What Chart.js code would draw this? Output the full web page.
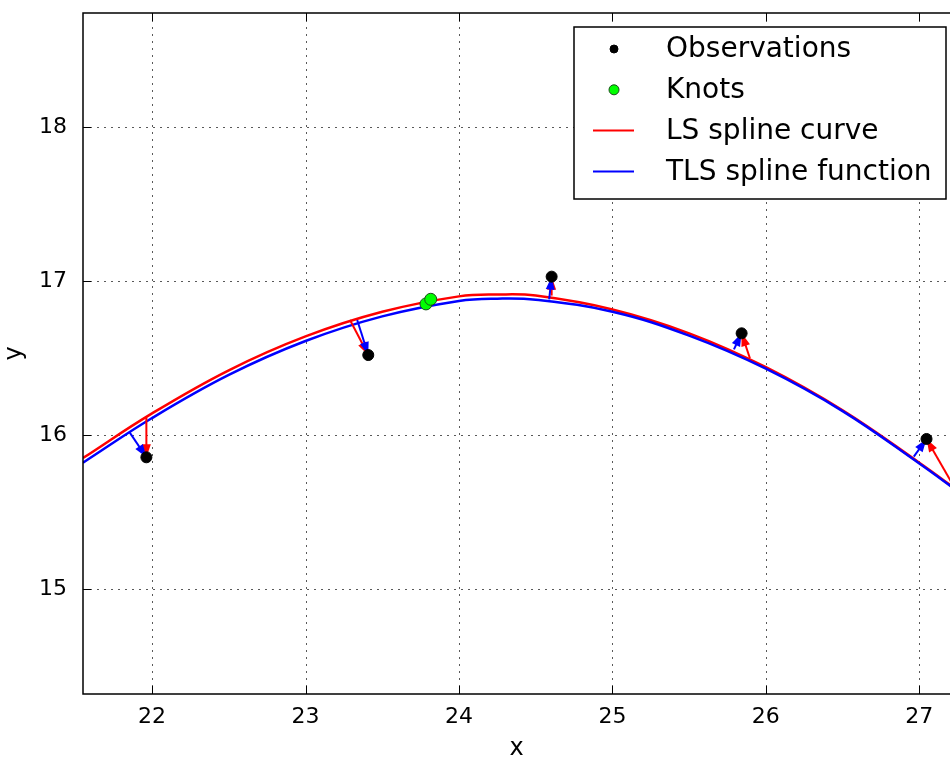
<!DOCTYPE html>
<html>
<head>
<meta charset="utf-8">
<script src="https://cdn.jsdelivr.net/npm/chart.js@4.4.0/dist/chart.umd.min.js"></script>
<style>
    html, body { margin: 0; padding: 0; background: #fff; }
    #wrap { width: 950px; height: 763px; position: relative; }
</style>
</head>
<body>
<div id="wrap"><canvas id="myChart"></canvas></div>
<script>
// observations (black dots)
var obsX = [21.963, 23.409, 24.604, 25.842, 27.047];
var obsY = [15.855, 16.519, 17.028, 16.660, 15.974];

// knots (green dots)
var knotX = [23.785, 23.816];
var knotY = [16.851, 16.881];

// spline curves
var curveX = [21.55, 22.0, 22.5, 23.0, 23.5, 24.0, 24.25, 24.5, 25.0, 25.5, 26.0, 26.5, 27.0, 27.25];
var lsY = [15.85, 16.14, 16.42, 16.64, 16.80, 16.90, 16.912, 16.905, 16.815, 16.66, 16.44, 16.16, 15.82, 15.64];
var tlsY = [15.82, 16.11, 16.39, 16.61, 16.77, 16.87, 16.885, 16.878, 16.80, 16.645, 16.43, 16.155, 15.815, 15.635];

// residual arrows: start on the curve, end at the observation
var lsArrowX = [21.963, 23.290, 24.604, 25.896, 27.240];
var lsArrowY = [16.115, 16.747, 16.905, 16.498, 15.640];
var tlsArrowX = [21.855, 23.337, 24.588, 25.792, 26.964];
var tlsArrowY = [16.015, 16.747, 16.881, 16.556, 15.859];

var xTicks = [22, 23, 24, 25, 26, 27];
var yTicks = [15, 16, 17, 18];

var FONT = "'DejaVu Sans', sans-serif";

function pts(xs, ys) {
    return xs.map(function (x, i) { return {x: x, y: ys[i]}; });
}

var datasets = [
    {
        label: 'Observations',
        data: pts(obsX, obsY),
        pointRadius: 5.5,
        pointBackgroundColor: '#000',
        pointBorderColor: '#000',
        pointBorderWidth: 1,
        showLine: false,
        order: 0
    },
    {
        label: 'Knots',
        data: pts(knotX, knotY),
        pointRadius: 6,
        pointBackgroundColor: '#00ff00',
        pointBorderColor: '#1a4d1a',
        pointBorderWidth: 1,
        showLine: false,
        order: 1
    },
    {
        label: 'LS spline curve',
        data: pts(curveX, lsY),
        borderColor: '#ff0000',
        borderWidth: 2.5,
        pointRadius: 0,
        showLine: true,
        tension: 0.4,
        order: 6
    },
    {
        label: 'TLS spline function',
        data: pts(curveX, tlsY),
        borderColor: '#0000ff',
        borderWidth: 2.5,
        pointRadius: 0,
        showLine: true,
        tension: 0.4,
        order: 5
    }
];

// one small dataset per arrow
lsArrowX.forEach(function (x, i) {
    datasets.push({
        label: '', arrow: true,
        data: [{x: x, y: lsArrowY[i]}, {x: obsX[i], y: obsY[i]}],
        borderColor: '#ff0000', borderWidth: 2, pointRadius: 0, showLine: true, order: 4
    });
});
tlsArrowX.forEach(function (x, i) {
    datasets.push({
        label: '', arrow: true,
        data: [{x: x, y: tlsArrowY[i]}, {x: obsX[i], y: obsY[i]}],
        borderColor: '#0000ff', borderWidth: 2, pointRadius: 0, showLine: true, order: 3
    });
});

// arrow heads, drawn right after each arrow line
var arrowPlugin = {
    id: 'arrowHeads',
    afterDatasetDraw: function (chart, args) {
        var ds = chart.data.datasets[args.index];
        if (!ds.arrow) return;
        var p0 = args.meta.data[0], p1 = args.meta.data[1];
        var a = chart.chartArea, ctx = chart.ctx;
        var ang = Math.atan2(p1.y - p0.y, p1.x - p0.x);
        var len = 13, half = 4.5;
        ctx.save();
        ctx.beginPath();
        ctx.rect(a.left, a.top, a.right - a.left, a.bottom - a.top);
        ctx.clip();
        ctx.fillStyle = ds.borderColor;
        ctx.beginPath();
        ctx.moveTo(p1.x, p1.y);
        ctx.lineTo(p1.x - len * Math.cos(ang) + half * Math.sin(ang), p1.y - len * Math.sin(ang) - half * Math.cos(ang));
        ctx.lineTo(p1.x - len * Math.cos(ang) - half * Math.sin(ang), p1.y - len * Math.sin(ang) + half * Math.cos(ang));
        ctx.closePath();
        ctx.fill();
        ctx.restore();
    }
};

// dotted grid, axes frame and inward ticks
var framePlugin = {
    id: 'frame',
    beforeDatasetsDraw: function (chart) {
        var ctx = chart.ctx, a = chart.chartArea;
        var sx = chart.scales.x, sy = chart.scales.y;
        ctx.save();
        ctx.strokeStyle = 'rgba(0,0,0,0.65)';
        ctx.lineWidth = 1;
        ctx.setLineDash([2, 5]);
        xTicks.forEach(function (v) {
            var p = Math.round(sx.getPixelForValue(v)) + 0.5;
            ctx.beginPath(); ctx.moveTo(p, a.bottom); ctx.lineTo(p, a.top); ctx.stroke();
        });
        yTicks.forEach(function (v) {
            var p = Math.round(sy.getPixelForValue(v)) + 0.5;
            ctx.beginPath(); ctx.moveTo(a.left, p); ctx.lineTo(a.right, p); ctx.stroke();
        });
        ctx.restore();
    },
    afterDatasetsDraw: function (chart) {
        var ctx = chart.ctx, a = chart.chartArea;
        var sx = chart.scales.x, sy = chart.scales.y;
        var tl = 8;
        ctx.save();
        ctx.strokeStyle = '#000';
        ctx.lineWidth = 1.5;
        ctx.strokeRect(a.left, a.top, a.right - a.left + 2, a.bottom - a.top);
        ctx.lineWidth = 1;
        xTicks.forEach(function (v) {
            var p = Math.round(sx.getPixelForValue(v)) + 0.5;
            ctx.beginPath(); ctx.moveTo(p, a.bottom); ctx.lineTo(p, a.bottom - tl); ctx.stroke();
            ctx.beginPath(); ctx.moveTo(p, a.top); ctx.lineTo(p, a.top + tl); ctx.stroke();
        });
        yTicks.forEach(function (v) {
            var p = Math.round(sy.getPixelForValue(v)) + 0.5;
            ctx.beginPath(); ctx.moveTo(a.left, p); ctx.lineTo(a.left + tl, p); ctx.stroke();
        });
        ctx.restore();
    }
};

// legend box in the upper right of the plot
var legendPlugin = {
    id: 'boxLegend',
    afterDraw: function (chart) {
        var ctx = chart.ctx, a = chart.chartArea;
        var x0 = a.right - 376, y0 = a.top + 14, w = 372, h = 172;
        var rowH = 40.8, firstRow = 22;
        ctx.save();
        ctx.fillStyle = '#fff';
        ctx.fillRect(x0, y0, w, h);
        ctx.strokeStyle = '#000';
        ctx.lineWidth = 1.5;
        ctx.strokeRect(x0, y0, w, h);
        ctx.font = '28px ' + FONT;
        ctx.textBaseline = 'middle';
        ctx.textAlign = 'left';
        for (var i = 0; i < 4; i++) {
            var ds = chart.data.datasets[i];
            var cy = y0 + firstRow + i * rowH;
            var cx = x0 + 40;
            if (ds.showLine) {
                ctx.strokeStyle = ds.borderColor;
                ctx.lineWidth = 2;
                ctx.beginPath(); ctx.moveTo(x0 + 19, cy); ctx.lineTo(x0 + 60, cy); ctx.stroke();
            } else {
                ctx.beginPath();
                ctx.arc(cx, cy, i === 0 ? 4 : 5, 0, Math.PI * 2);
                ctx.fillStyle = ds.pointBackgroundColor;
                ctx.fill();
                ctx.strokeStyle = ds.pointBorderColor;
                ctx.lineWidth = 1;
                ctx.stroke();
            }
            ctx.fillStyle = '#000';
            ctx.fillText(ds.label, x0 + 92, cy + 1);
        }
        ctx.restore();
    }
};

var ctx = document.getElementById('myChart').getContext('2d');

new Chart(ctx, {
    type: 'scatter',
    data: {datasets: datasets},
    options: {
        responsive: true,
        maintainAspectRatio: false,
        animation: false,
        layout: {autoPadding: false, padding: {top: 13, right: 0, left: 0, bottom: 0}},
        plugins: {
            legend: {display: false},
            tooltip: {enabled: false}
        },
        scales: {
            x: {
                type: 'linear',
                min: 21.55,
                max: 27.2,
                grid: {display: false, drawTicks: false},
                border: {display: false},
                afterBuildTicks: function (s) { s.ticks = xTicks.map(function (v) { return {value: v}; }); },
                afterFit: function (s) { s.height = 69; s.paddingLeft = 0; s.paddingRight = 0; },
                ticks: {color: '#000', font: {family: FONT, size: 22}, padding: 10, maxRotation: 0},
                title: {display: true, text: 'x', color: '#000', font: {family: FONT, size: 24}, padding: {top: 0, bottom: 0}}
            },
            y: {
                type: 'linear',
                min: 14.318,
                max: 18.74,
                grid: {display: false, drawTicks: false},
                border: {display: false},
                afterBuildTicks: function (s) { s.ticks = yTicks.map(function (v) { return {value: v}; }); },
                afterFit: function (s) { s.width = 83; s.paddingTop = 0; s.paddingBottom = 0; },
                ticks: {color: '#000', font: {family: FONT, size: 22}, padding: 16},
                title: {display: true, text: 'y', color: '#000', font: {family: FONT, size: 24}, padding: {top: 0, bottom: 6}}
            }
        }
    },
    plugins: [framePlugin, arrowPlugin, legendPlugin]
});
</script>
</body>
</html>
